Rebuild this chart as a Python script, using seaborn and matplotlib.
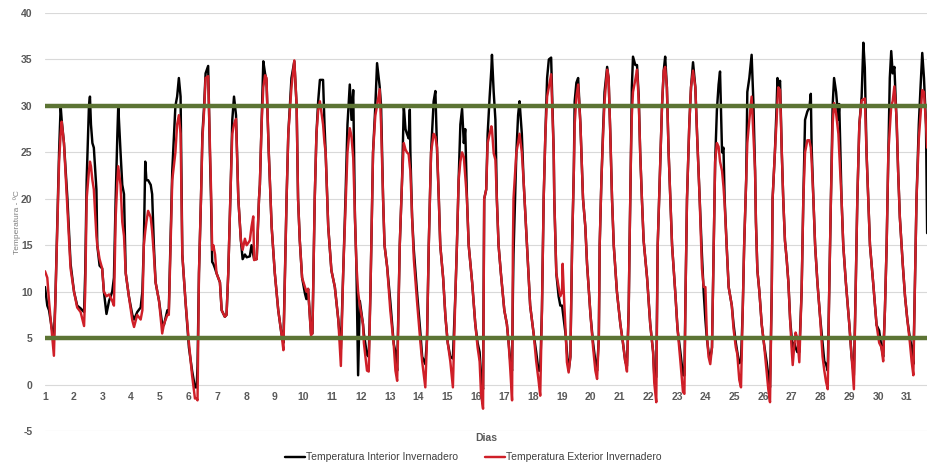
import pandas as pd
import matplotlib
matplotlib.use("Agg")
import matplotlib.pyplot as plt
from matplotlib.lines import Line2D
import seaborn as sns

# tiempo en dias (fraccion del dia) y temperaturas
dias = [
    1.00, 1.08, 1.14, 1.24, 1.31, 1.36, 1.41, 1.49, 1.545, 1.58, 1.66, 1.78, 1.89, 2.01, 2.12, 2.24, 2.36,
    2.40, 2.45, 2.53, 2.565, 2.60, 2.65, 2.70, 2.79, 2.82, 2.90, 2.99, 3.05, 3.14, 3.23, 3.34, 3.40,
    3.46, 3.52, 3.55, 3.63, 3.69, 3.75, 3.81, 3.92, 4.04, 4.10, 4.21, 4.33, 4.39, 4.44,
    4.49, 4.53, 4.59, 4.68, 4.73, 4.79, 4.85, 4.97, 5.08, 5.14, 5.26, 5.31, 5.43, 5.54, 5.60, 5.66, 5.72, 5.78, 5.89, 6.01, 6.12, 6.22, 6.28, 6.31,
    6.36, 6.43, 6.48, 6.54, 6.59, 6.68, 6.74, 6.78, 6.82, 6.86, 6.92, 6.97, 7.09, 7.15, 7.26, 7.32,
    7.38, 7.47, 7.52, 7.58, 7.65, 7.73, 7.82, 7.88, 7.96, 8.02, 8.13, 8.19, 8.25, 8.28, 8.37,
    8.45, 8.48, 8.54, 8.60, 8.66, 8.71, 8.79, 8.89, 9.00, 9.12, 9.23, 9.30,
    9.41, 9.47, 9.58, 9.68, 9.76, 9.81, 9.87, 9.95, 10.05, 10.10, 10.16, 10.26, 10.31,
    10.39, 10.45, 10.51, 10.57, 10.68, 10.73, 10.77, 10.86, 10.97, 11.09, 11.21, 11.30,
    11.38, 11.46, 11.53, 11.61, 11.67, 11.73, 11.79, 11.84, 11.90, 11.96, 12.07, 12.10, 12.21, 12.27,
    12.33, 12.42, 12.50, 12.56, 12.65, 12.70, 12.77, 12.82, 12.91, 13.02, 13.14, 13.20, 13.26,
    13.35, 13.43, 13.49, 13.55, 13.60, 13.66, 13.70, 13.72, 13.78, 13.84, 13.95, 14.07, 14.13, 14.24,
    14.30, 14.36, 14.44, 14.53, 14.59, 14.65, 14.71, 14.76, 14.86, 14.94, 15.02, 15.11, 15.20,
    15.29, 15.34, 15.40, 15.46, 15.52, 15.58, 15.63, 15.69, 15.75, 15.87, 15.98, 16.06, 16.13, 16.18, 16.25,
    16.29, 16.36, 16.41, 16.48, 16.54, 16.56, 16.62, 16.68, 16.73, 16.79, 16.87, 16.99, 17.08, 17.14, 17.20, 17.26,
    17.29, 17.31, 17.41, 17.47, 17.52, 17.60, 17.66, 17.78, 17.89, 18.01, 18.10, 18.18, 18.24,
    18.30, 18.36, 18.42, 18.48, 18.54, 18.62, 18.71, 18.73, 18.80, 18.88, 18.94, 19.00, 19.02, 19.06, 19.12, 19.17, 19.23,
    19.29, 19.35, 19.41, 19.44, 19.50, 19.56, 19.64, 19.73, 19.81, 19.87, 19.99, 20.08, 20.16, 20.22,
    20.28, 20.31, 20.37, 20.43, 20.48, 20.57, 20.62, 20.68, 20.74, 20.80, 20.91, 21.03, 21.12, 21.20, 21.26,
    21.32, 21.35, 21.40, 21.43, 21.47, 21.55, 21.61, 21.67, 21.72, 21.78, 21.84, 21.96, 22.07, 22.17, 22.21, 22.28,
    22.33, 22.40, 22.48, 22.54, 22.59, 22.65, 22.71, 22.77, 22.83, 22.94, 23.02, 23.12, 23.21, 23.26,
    23.30, 23.35, 23.43, 23.49, 23.56, 23.64, 23.70, 23.79, 23.87, 23.93, 23.99, 24.04, 24.10, 24.16,
    24.22, 24.28, 24.33, 24.39, 24.45, 24.50, 24.57, 24.62, 24.66, 24.73, 24.80, 24.91, 24.97, 25.05, 25.10, 25.17, 25.23,
    25.29, 25.34, 25.41, 25.45, 25.52, 25.60, 25.66, 25.72, 25.75, 25.80, 25.87, 25.95, 26.03, 26.12, 26.18, 26.24,
    26.30, 26.33, 26.41, 26.47, 26.50, 26.53, 26.59, 26.65, 26.70, 26.76, 26.82, 26.88, 26.94, 26.99, 27.03, 27.08, 27.13, 27.19, 27.26,
    27.34, 27.40, 27.46, 27.54, 27.61, 27.66, 27.69, 27.75, 27.81, 27.89, 27.98, 28.07, 28.13, 28.19, 28.25,
    28.30, 28.36, 28.42, 28.47, 28.54, 28.62, 28.65, 28.73, 28.79, 28.88, 29.00, 29.08, 29.16,
    29.22, 29.28, 29.35, 29.43, 29.49, 29.54, 29.60, 29.66, 29.72, 29.83, 29.95, 30.04, 30.12, 30.18,
    30.24, 30.30, 30.36, 30.41, 30.46, 30.51, 30.57, 30.65, 30.70, 30.76, 30.86, 30.94, 31.02, 31.11, 31.17, 31.23,
    31.28, 31.34, 31.42, 31.48, 31.54, 31.60, 31.67, 31.71,
]

temp_interior = [
    10.5, 8.5, 8.0, 6.0, 5.0, 9.0, 15.0, 25.0, 30.0, 28.5, 26.0, 20.0, 13.0, 10.0, 8.5, 8.2, 7.8,
    12.0, 22.0, 30.0, 31.0, 28.0, 26.0, 25.5, 21.0, 15.0, 12.8, 12.5, 10.0, 7.6, 9.0, 10.0, 11.5,
    20.0, 27.0, 30.0, 25.0, 21.5, 20.5, 12.0, 9.5, 7.5, 7.0, 7.8, 8.3, 10.0, 15.0,
    24.0, 22.0, 22.0, 21.5, 20.5, 15.0, 11.0, 9.0, 6.5, 6.4, 8.0, 8.0, 23.0, 30.0, 31.0, 33.0, 31.0, 14.0, 9.0, 4.0, 1.5, -0.3, -0.3, 2.0,
    12.0, 20.0, 27.0, 30.0, 33.5, 34.3, 25.0, 20.0, 13.2, 13.0, 12.5, 12.0, 11.0, 8.0, 7.3, 7.5,
    12.0, 22.0, 28.5, 31.0, 29.0, 20.0, 15.5, 13.5, 14.0, 13.7, 13.8, 15.0, 14.0, 13.5, 13.5,
    20.0, 21.5, 28.0, 34.8, 33.5, 32.8, 25.0, 17.0, 12.0, 8.0, 5.5, 4.5,
    20.0, 27.0, 33.0, 34.8, 30.0, 20.0, 15.5, 11.5, 9.8, 9.2, 10.3, 5.5, 5.5,
    20.0, 27.0, 30.5, 32.8, 32.8, 28.0, 25.0, 17.0, 12.3, 10.5, 7.0, 3.8,
    12.0, 20.0, 28.0, 32.3, 28.5, 31.7, 18.0, 13.0, 1.0, 9.0, 6.5, 5.5, 3.2, 3.0,
    10.0, 25.0, 30.0, 34.6, 32.1, 30.0, 20.0, 15.0, 12.7, 9.0, 4.4, 3.5, 1.5,
    15.0, 22.0, 30.0, 27.5, 27.0, 26.5, 29.6, 25.0, 18.0, 14.5, 10.0, 5.5, 3.0, 2.2,
    5.0, 15.0, 25.0, 30.5, 31.6, 25.0, 20.0, 15.0, 11.5, 7.3, 4.5, 3.0, 2.8,
    10.0, 15.0, 22.0, 28.0, 29.7, 26.0, 27.5, 20.0, 15.0, 11.0, 6.5, 4.5, 3.5, 1.0, -0.5,
    20.0, 21.0, 27.0, 31.0, 34.0, 35.5, 31.5, 28.5, 20.0, 15.0, 12.0, 8.0, 6.5, 4.5, 2.5, 1.5,
    10.0, 14.0, 25.0, 29.0, 30.5, 27.0, 22.0, 15.0, 8.5, 5.5, 3.5, 1.5, 1.5,
    8.0, 20.0, 27.0, 33.0, 35.0, 35.2, 25.0, 20.0, 12.0, 9.5, 8.5, 8.5, 8.0, 7.0, 5.5, 3.5, 1.5,
    3.0, 15.0, 23.0, 30.5, 32.5, 33.0, 28.0, 20.0, 17.0, 13.0, 7.5, 4.5, 2.5, 1.5,
    5.0, 15.0, 22.0, 27.5, 31.5, 34.2, 33.0, 27.0, 20.0, 15.0, 10.0, 6.5, 4.5, 2.5, 2.0,
    8.0, 15.0, 25.0, 32.0, 35.3, 34.4, 34.4, 31.0, 25.0, 20.0, 15.5, 11.5, 6.5, 3.5, 1.0, 0.8,
    15.0, 22.0, 30.0, 33.8, 35.3, 32.0, 25.0, 20.0, 15.0, 10.0, 6.0, 3.5, 1.0, 1.0,
    10.0, 20.0, 28.0, 32.0, 34.7, 32.0, 27.0, 20.0, 14.0, 10.0, 7.0, 5.0, 3.5, 2.8,
    4.0, 15.0, 24.0, 29.5, 32.3, 33.7, 25.0, 25.5, 20.0, 15.0, 10.5, 8.5, 6.5, 4.5, 3.5, 2.3, 2.5,
    8.0, 15.0, 22.0, 31.5, 33.0, 35.5, 30.5, 23.0, 17.5, 12.3, 10.0, 6.5, 4.4, 2.5, 1.0, -0.3,
    10.0, 20.0, 25.0, 30.0, 33.0, 32.0, 32.7, 25.0, 20.0, 15.5, 13.5, 11.0, 7.0, 5.2, 3.5, 4.5, 4.0, 3.5, 3.5,
    10.0, 20.0, 28.5, 29.4, 29.8, 31.3, 25.5, 20.0, 15.0, 11.0, 7.4, 4.5, 2.5, 2.2, 1.5,
    10.0, 20.0, 30.0, 33.0, 31.5, 28.5, 30.2, 20.0, 15.0, 11.0, 6.5, 3.0, 1.0,
    10.0, 20.0, 28.0, 31.0, 36.8, 34.1, 25.0, 20.0, 15.0, 11.0, 6.4, 5.8, 4.0, 3.0,
    8.0, 15.0, 25.0, 33.0, 35.9, 33.5, 34.2, 28.0, 23.0, 18.0, 13.0, 9.5, 7.0, 5.0, 4.0, 2.2,
    10.0, 20.0, 28.0, 32.0, 35.7, 33.0, 28.0, 16.3,
]

temp_exterior = [
    12.2, 11.5, 9.0, 5.5, 3.1, 9.0, 15.0, 24.0, 27.0, 28.3, 26.0, 19.0, 12.5, 10.0, 8.3, 7.8, 6.3,
    10.0, 20.0, 23.0, 24.0, 23.5, 22.0, 21.0, 16.0, 15.0, 13.5, 12.5, 10.0, 9.5, 9.7, 9.0, 8.5,
    18.0, 22.0, 23.5, 21.5, 17.5, 16.0, 12.0, 9.5, 6.9, 6.2, 7.5, 7.0, 8.0, 15.0,
    16.5, 17.5, 18.7, 18.0, 16.5, 14.0, 11.0, 9.0, 5.5, 6.5, 7.5, 7.5, 22.0, 25.0, 28.0, 29.0, 27.0, 14.0, 9.0, 4.5, 1.0, -1.5, -1.5, -1.7,
    12.0, 20.0, 26.5, 29.5, 33.0, 33.2, 26.0, 21.0, 14.5, 15.0, 14.0, 12.0, 11.0, 8.0, 7.3, 7.5,
    12.0, 22.0, 27.0, 28.0, 28.6, 20.0, 15.5, 14.5, 15.7, 15.0, 15.5, 17.0, 18.1, 13.4, 13.5,
    20.0, 21.5, 28.0, 32.0, 33.3, 33.0, 25.0, 17.0, 12.0, 8.0, 5.5, 3.7,
    20.0, 27.0, 32.0, 34.9, 30.0, 20.0, 15.5, 11.5, 10.5, 10.0, 10.3, 5.3, 5.5,
    20.0, 27.0, 29.5, 30.5, 28.0, 26.0, 25.0, 17.0, 12.3, 10.5, 7.0, 2.0,
    12.0, 19.0, 25.0, 27.6, 26.7, 24.4, 18.0, 13.0, 10.0, 8.5, 6.5, 4.5, 1.5, 1.4,
    10.0, 25.0, 29.0, 30.0, 31.8, 28.0, 20.0, 15.0, 12.7, 8.0, 4.3, 1.5, 0.4,
    15.0, 22.0, 26.0, 25.3, 25.0, 24.8, 23.5, 23.0, 18.0, 13.5, 9.0, 4.5, 2.5, -0.3,
    5.0, 15.0, 25.0, 27.0, 26.7, 25.5, 20.0, 15.0, 11.5, 7.3, 4.5, 2.5, -0.3,
    10.0, 15.0, 22.0, 24.0, 25.0, 24.5, 22.5, 20.0, 15.0, 11.0, 6.5, 4.0, 2.5, -1.0, -2.6,
    20.0, 21.0, 26.0, 27.0, 27.8, 27.5, 24.9, 24.2, 20.0, 15.0, 12.0, 8.0, 6.5, 4.5, 1.5, -1.7,
    15.0, 20.0, 25.0, 26.0, 27.0, 25.0, 22.0, 15.0, 8.5, 5.5, 2.5, 0.5, -1.2,
    8.0, 20.0, 27.0, 31.0, 32.0, 33.4, 25.0, 20.0, 12.0, 10.5, 9.5, 10.0, 13.0, 10.0, 6.0, 2.4, 1.3,
    3.0, 15.0, 23.0, 28.0, 31.0, 32.3, 28.0, 20.0, 17.0, 13.0, 7.5, 4.0, 1.5, 0.6,
    5.0, 15.0, 22.0, 27.0, 30.5, 33.9, 33.0, 27.0, 20.0, 15.0, 10.0, 6.5, 4.5, 2.5, 1.4,
    8.0, 15.0, 25.0, 29.0, 31.5, 32.8, 33.9, 30.5, 25.0, 20.0, 15.5, 11.5, 6.5, 3.5, 0.2, -1.9,
    15.0, 22.0, 30.0, 33.8, 34.2, 32.0, 25.0, 20.0, 15.0, 10.0, 6.0, 2.5, -0.8, -1.0,
    10.0, 20.0, 28.0, 32.0, 33.8, 32.0, 27.0, 20.0, 12.5, 10.5, 10.5, 5.5, 3.0, 2.2,
    4.0, 15.0, 24.0, 26.0, 25.6, 24.0, 23.0, 21.3, 19.5, 15.0, 10.5, 8.5, 6.0, 4.0, 3.3, 0.5, -0.3,
    8.0, 15.0, 22.0, 26.0, 28.5, 31.0, 27.0, 23.0, 17.5, 12.3, 10.0, 6.5, 4.4, 1.5, -0.5, -1.9,
    10.0, 20.0, 25.0, 28.5, 30.5, 32.0, 31.7, 25.0, 20.0, 15.5, 13.5, 11.0, 7.0, 4.0, 2.1, 4.0, 5.6, 5.0, 2.4,
    10.0, 20.0, 25.0, 26.3, 26.3, 25.5, 24.0, 20.0, 15.0, 11.0, 7.4, 3.0, 1.5, 0.3, -0.5,
    10.0, 20.0, 28.0, 30.3, 29.2, 27.0, 25.0, 20.0, 15.0, 11.0, 6.5, 3.0, -0.5,
    10.0, 20.0, 28.0, 30.6, 30.7, 30.8, 25.0, 20.0, 15.0, 11.0, 6.4, 4.5, 4.0, 2.5,
    8.0, 15.0, 25.0, 27.5, 30.0, 30.5, 32.1, 28.5, 23.0, 18.0, 13.0, 9.5, 7.0, 4.5, 2.5, 1.0,
    10.0, 20.0, 26.5, 29.0, 31.7, 31.5, 28.0, 25.5,
]

limites = [30, 5]
ticks_dias = list(range(1, 32))
ticks_temp = list(range(-5, 45, 5))

series = ["Temperatura Interior Invernadero", "Temperatura Exterior Invernadero"]
colores = ["#000000", "#cf1f28"]
verde = "#5c7434"
gris = "#595959"

df = pd.DataFrame({"Dias": dias, series[0]: temp_interior, series[1]: temp_exterior})
largo = df.melt(id_vars="Dias", var_name="serie", value_name="temp")

sns.set_theme(style="white")
plt.rcParams["font.family"] = ["Liberation Sans", "DejaVu Sans"]
plt.rcParams["axes.unicode_minus"] = False

fig = plt.figure(figsize=(9.28, 4.67), dpi=100)
ax = fig.add_axes([45 / 928, 36 / 467, 883 / 928, 418 / 467])

sns.lineplot(data=largo, x="Dias", y="temp", hue="serie", hue_order=series,
             palette=colores, estimator=None, sort=False, linewidth=1.75,
             legend=False, ax=ax, zorder=3)

for v in limites:
    ax.axhline(v, color=verde, lw=3.2, zorder=4)

ax.set_xlim(1, 31.74)
ax.set_ylim(-5, 40)
ax.set_xticks(ticks_dias)
ax.set_yticks(ticks_temp)
ax.grid(axis="y", color="#d9d9d9", lw=0.8)
ax.set_axisbelow(True)

for s in ax.spines.values():
    s.set_color("none")
ax.spines["bottom"].set_position(("data", 0))

ax.tick_params(axis="both", length=0, labelsize=7.5, labelcolor=gris)
ax.tick_params(axis="x", pad=5)
ax.tick_params(axis="y", pad=9)
for lab in ax.get_xticklabels() + ax.get_yticklabels():
    lab.set_fontweight("bold")

ax.set_xlabel("Dias", fontsize=7.5, fontweight="bold", color=gris)
ax.xaxis.set_label_coords(0.5, -0.004)
ax.set_ylabel("Temperatura - ºC", fontsize=6, color="#808080")
ax.yaxis.set_label_coords(-0.027, 0.5)

handles = [Line2D([], [], color=c, lw=1.75) for c in colores]
fig.legend(handles, series, loc="center", bbox_to_anchor=(0.51, 0.021), ncol=2,
           frameon=False, fontsize=7.5, handlelength=1.9, handletextpad=0.1,
           columnspacing=2.6, labelcolor="#404040")

fig.savefig("out.png", dpi=100)
